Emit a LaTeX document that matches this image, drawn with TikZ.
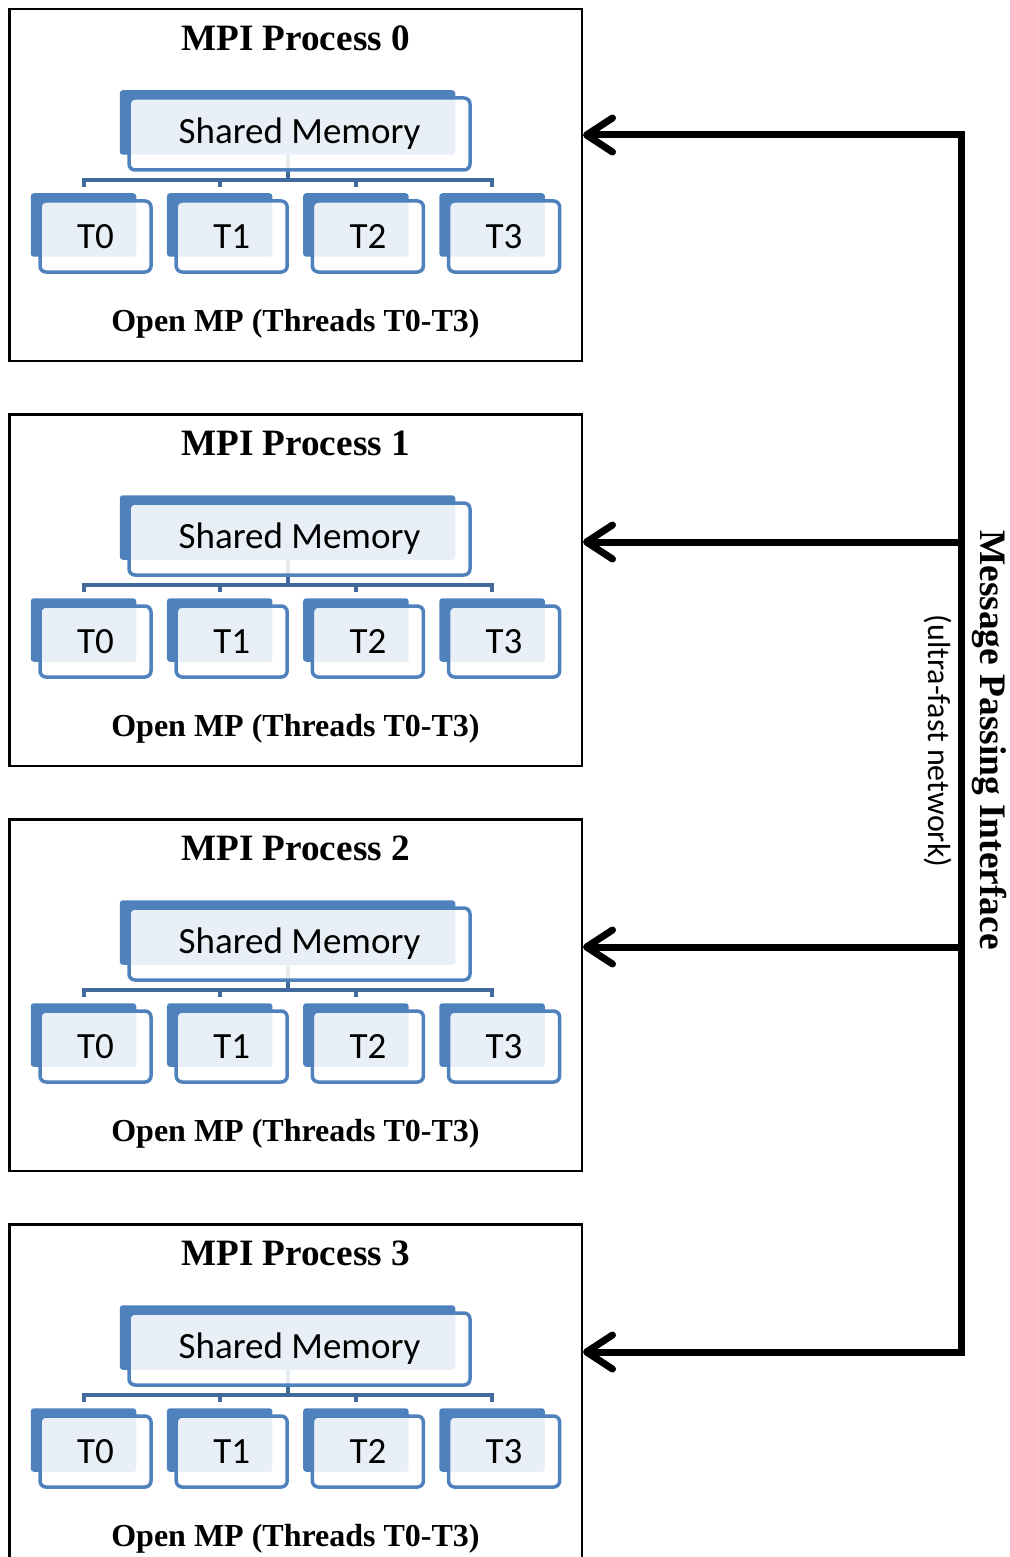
\documentclass[tikz,border=0pt]{standalone}
\usepackage{fontspec}
\setmainfont{Liberation Serif}
\newfontfamily\calfont{Carlito}
\usetikzlibrary{positioning, calc, arrows.meta, backgrounds}

\definecolor{smblue}{HTML}{4F81BD}
\definecolor{linkblue}{HTML}{41699C}

\tikzset{
    process/.style={draw, line width=1.25pt, minimum width=286.25pt, minimum height=175.75pt, inner sep=0pt, anchor=north west},
    ptitle/.style={font=\bfseries\fontsize{18.6}{20}\selectfont},
    pfoot/.style={font=\bfseries\fontsize{16}{18}\selectfont},
    front/.style={draw=smblue, line width=1.75pt, rounded corners=3pt, fill=white, fill opacity=0.88, text opacity=1, inner sep=0pt, font=\calfont\fontsize{18.5}{20}\selectfont},
    memory/.style={front, minimum width=170.5pt, minimum height=36pt},
    thread/.style={front, minimum width=55.5pt, minimum height=35.5pt},
    back/.style={fill=smblue, rounded corners=1.5pt},
    link/.style={draw=linkblue, line width=2pt},
    mpi/.style={line width=3.5pt},
}

\begin{document}
\begin{tikzpicture}[x=0.5pt,y=-0.5pt]

    \useasboundingbox (0,0) rectangle (1010,1557);
    \clip (0,0) rectangle (1010,1557);

    \foreach \p in {0,...,3} {
        \node[process] (proc\p) at (8,8+405*\p) {};
        \node[ptitle] (title\p) at ($(proc\p.north)+(0,30)$) {MPI Process \p};
        \node[pfoot] (foot\p) at ($(proc\p.north)+(0,316)$) {Open MP (Threads T0-T3)};
        \node[memory] (mem\p) at ($(proc\p.north)+(4,126)$) {Shared Memory};
        \coordinate (mb\p) at ($(mem\p.south)+(-12,-17)$);
        \begin{pgfonlayer}{background}
            \fill[back] ($(mem\p.north west)+(-7.5,-6)$) rectangle ($(mem\p.south east)+(-16.5,-17)$);
        \end{pgfonlayer}
        \foreach \j in {0,...,3} {
            \node[thread] (t\p-\j) at (95.5+136.2*\j,236.5+405*\p) {T\j};
            \begin{pgfonlayer}{background}
                \fill[back] ($(t\p-\j.north west)+(-7.5,-6)$) rectangle ($(t\p-\j.south east)+(-16.5,-17)$);
                \draw[link] (mb\p) -- ++(0,25) -| ($(t\p-\j.north)+(-12,-12)$);
            \end{pgfonlayer}
        }
    }

    \coordinate (bus0) at (961,135);
    \coordinate (bus1) at (961,542);
    \coordinate (bus2) at (961,947);
    \coordinate (bus3) at (961,1352);

    \draw[mpi, line cap=rect] (bus0) -- (bus3);
    \foreach \p in {0,...,3}
        \draw[mpi, -{Straight Barb[length=13pt,width=17pt,round]}] (bus\p) -- (proc\p.east |- bus\p);

    \node[rotate=-90, font=\bfseries\fontsize{18.7}{20}\selectfont] (mpilabel) at (990,740) {Message Passing Interface};
    \node[rotate=-90, font=\calfont\fontsize{16}{18}\selectfont] (netlabel) at (938,741) {(ultra-fast network)};

\end{tikzpicture}
\end{document}
